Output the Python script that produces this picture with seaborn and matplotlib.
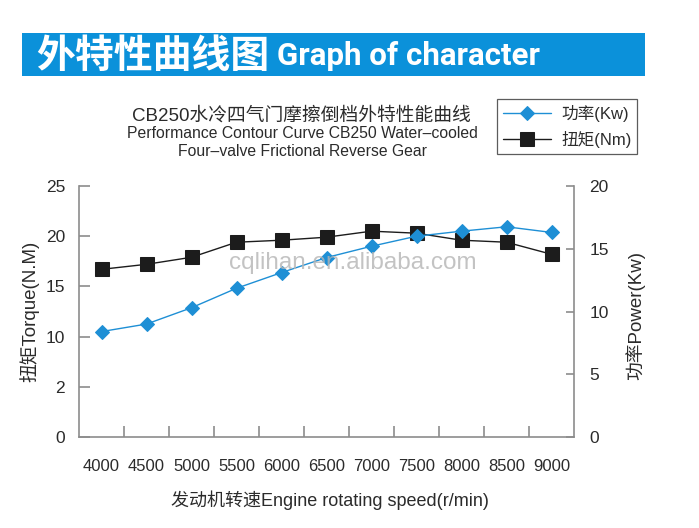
import matplotlib
matplotlib.use("Agg")
import matplotlib.pyplot as plt
import seaborn as sns
import pandas as pd
from matplotlib.patches import Rectangle

# ---- data ----
rpm = [4000, 4500, 5000, 5500, 6000, 6500, 7000, 7500, 8000, 8500, 9000]
rpm_labels = ["4000", "4500", "5000", "5500", "6000", "6500", "7000", "7500", "8000", "8500", "9000"]
torque = [16.7, 17.2, 17.9, 19.4, 19.6, 19.9, 20.5, 20.3, 19.6, 19.4, 18.2]
power = [8.4, 9.0, 10.3, 11.85, 13.1, 14.3, 15.2, 16.0, 16.4, 16.75, 16.3]
left_ticks = [0, 5, 10, 15, 20, 25]
left_labels = ["0", "2", "10", "15", "20", "25"]
right_ticks = [0, 5, 10, 15, 20]
right_labels = ["0", "5", "10", "15", "20"]

sns.set_theme(style="white")
plt.rcParams["font.family"] = ["Liberation Sans", "Noto Sans CJK SC"]

df = pd.DataFrame({"rpm": rpm, "torque": torque, "power": power})

W, H = 699, 528
fig = plt.figure(figsize=(W / 100, H / 100), dpi=100)
fig.patch.set_facecolor("white")

# banner
fig.patches.append(Rectangle((22 / W, 1 - 76 / H), (645 - 22) / W, 43 / H,
                             transform=fig.transFigure, facecolor="#0B91DA",
                             edgecolor="none", zorder=0))
fig.text(36 / W, 1 - 56 / H, "外特性曲线图", color="white", fontsize=28,
         fontweight="bold", family=["Noto Sans CJK SC"], ha="left", va="center")
fig.text(277 / W, 1 - 56 / H, "Graph of character", color="white", fontsize=22.5,
         fontweight="bold", family=["Liberation Sans Narrow", "Roboto", "DejaVu Sans"],
         ha="left", va="center")

# titles
tc = "#2b2b2b"
fig.text(301 / W, 1 - 116 / H, "CB250水冷四气门摩擦倒档外特性能曲线", color=tc,
         fontsize=13.5, ha="center", va="center")
fig.text(302 / W, 1 - 133 / H, "Performance Contour Curve CB250 Water\u2013cooled", color=tc,
         fontsize=11.3, ha="center", va="center")
fig.text(302 / W, 1 - 151 / H, "Four\u2013valve Frictional Reverse Gear", color=tc,
         fontsize=11.3, ha="center", va="center")

# axes
x0, x1, ytop, ybot = 79, 574, 186, 437
ax = fig.add_axes([x0 / W, 1 - ybot / H, (x1 - x0) / W, (ybot - ytop) / H])
ax2 = ax.twinx()

sns.lineplot(data=df, x="rpm", y="torque", ax=ax, color="#1c1c1c", lw=1,
             marker="s", markersize=9.5, markeredgecolor="#1c1c1c", legend=False)
sns.lineplot(data=df, x="rpm", y="power", ax=ax2, color="#1E8FD5", lw=1,
             marker="D", markersize=7.5, markeredgecolor="#1E8FD5", legend=False)

ax.set_xlim(3750, 9250)
ax.set_ylim(0, 25)
ax2.set_ylim(0, 20)
ax.set_xlabel("")
ax.set_ylabel("")
ax2.set_ylabel("")

spc = "#8c8c8c"
for a in (ax, ax2):
    a.grid(False)
    a.set_facecolor("none")
    for s in a.spines.values():
        s.set_color(spc)
        s.set_linewidth(1.2)
    a.spines["top"].set_visible(False)
ax.spines["right"].set_visible(False)
ax2.spines["left"].set_visible(False)
ax2.spines["bottom"].set_visible(False)

ax.set_xticks(rpm, rpm_labels)
mids = [(rpm[i] + rpm[i + 1]) / 2 for i in range(len(rpm) - 1)]
ax.set_xticks(mids, minor=True)
ax.tick_params(axis="x", which="major", length=0, pad=16, labelsize=12, labelcolor=tc)
ax.tick_params(axis="x", which="minor", bottom=True, direction="in", length=8,
               width=1.2, color=spc)
ax.set_yticks(left_ticks, left_labels)
ax.tick_params(axis="y", left=True, direction="in", length=8, width=1.2, color=spc,
               pad=10, labelsize=12.5, labelcolor=tc)
ax2.set_yticks(right_ticks, right_labels)
ax2.tick_params(axis="y", right=True, direction="in", length=6, width=1.2, color=spc,
                pad=11, labelsize=12.5, labelcolor=tc)

# axis labels
fig.text(29 / W, 1 - 311 / H, "扭矩Torque(N.M)", rotation=90, ha="center", va="center",
         fontsize=13.5, color=tc)
fig.text(635 / W, 1 - 316 / H, "功率Power(Kw)", rotation=90, ha="center", va="center",
         fontsize=13.5, color=tc)
fig.text(330 / W, 1 - 500 / H, "发动机转速Engine rotating speed(r/min)", ha="center",
         va="center", fontsize=13, color=tc)

# watermark
fig.text(353 / W, 1 - 263 / H, "cqlihan.en.alibaba.com", ha="center", va="center",
         fontsize=17.5, color="#b5b5b5", alpha=0.8, zorder=10)

# legend
h_power = ax2.lines[0]
h_torque = ax.lines[0]
leg = fig.legend([h_power, h_torque], ["功率(Kw)", "扭矩(Nm)"], loc="upper left",
                 bbox_to_anchor=(497 / W, 1 - 99 / H), frameon=True, fancybox=False,
                 fontsize=12, handlelength=2.9, borderpad=0.35, labelspacing=0.55,
                 handletextpad=0.6, borderaxespad=0)
leg.get_frame().set_edgecolor("#333333")
leg.get_frame().set_linewidth(0.9)
for t in leg.get_texts():
    t.set_color(tc)

fig.savefig("out.png", dpi=100, facecolor="white")
